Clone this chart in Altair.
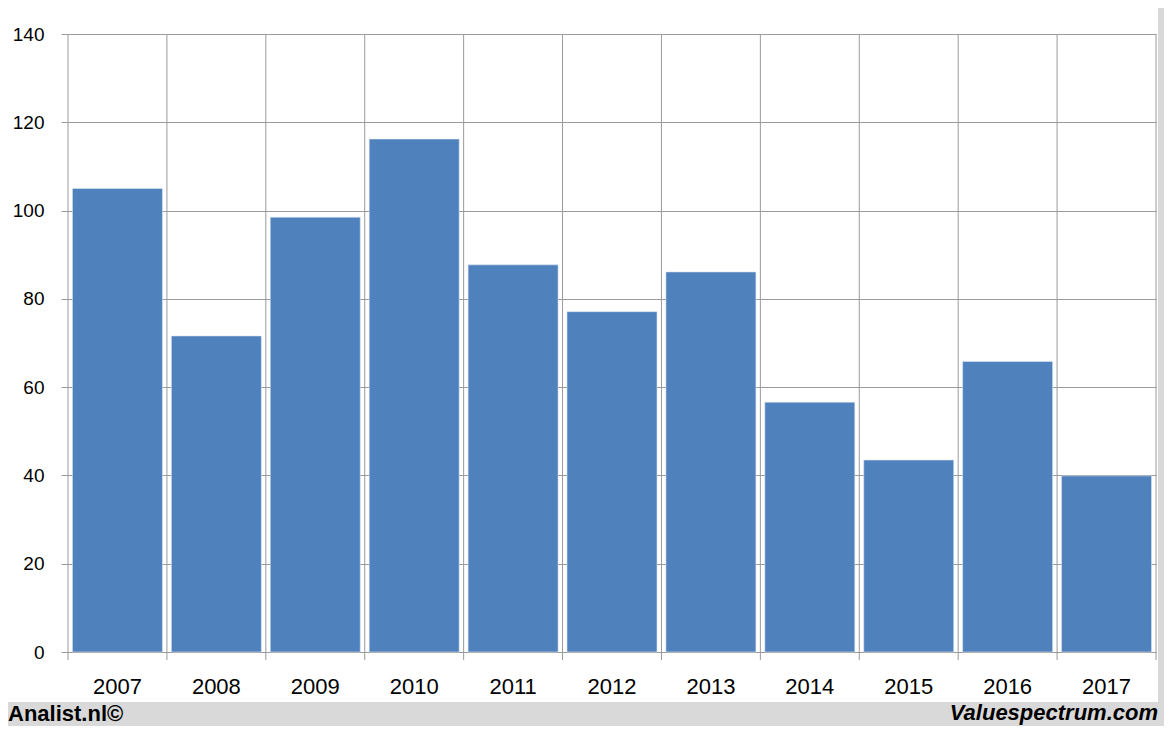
import altair as alt
import pandas as pd

years = ["2007", "2008", "2009", "2010", "2011", "2012", "2013", "2014", "2015", "2016", "2017"]
values = [105.0, 71.6, 98.5, 116.2, 87.7, 77.1, 86.1, 56.6, 43.5, 65.8, 39.9]
y_ticks = [0, 20, 40, 60, 80, 100, 120, 140]
footer_left = "Analist.nl©"
footer_right = "Valuespectrum.com"

df = pd.DataFrame({"year": years, "value": values})

W, H = 1088, 618
FONT = "Liberation Sans"
GRID = "#9a9a9a"
FRAME = "#d9d9d9"

x_scale = alt.Scale(domain=years, paddingInner=0, paddingOuter=0)
y_scale = alt.Scale(domain=[0, 140], nice=False)

x_axis = alt.Axis(
    labelAngle=0,
    ticks=False,
    domain=False,
    grid=False,
    labelPadding=24,
    labelFontSize=22,
    labelFont=FONT,
    labelColor="#000000",
)

base = alt.Chart(df)
first = alt.datum.year == "2007"

# gray footer and right strip (outside plot area)
footer_bg = base.mark_rect(color=FRAME, clip=False).encode(
    x=alt.value(-60), x2=alt.value(1096), y=alt.value(668), y2=alt.value(692)
).transform_filter(first)
right_bg = base.mark_rect(color=FRAME, clip=False).encode(
    x=alt.value(1090), x2=alt.value(1096), y=alt.value(-26), y2=alt.value(692)
).transform_filter(first)

# vertical boundary lines between categories
vlines = base.mark_rule(color=GRID, strokeWidth=1).encode(
    x=alt.X("year:N", bandPosition=0, scale=x_scale, sort=years, title=None, axis=x_axis),
    y=alt.value(0),
    y2=alt.value(H + 8),
)
right_line = base.mark_rule(color=GRID, strokeWidth=1).encode(
    x=alt.value(W), y=alt.value(0), y2=alt.value(H + 8)
).transform_filter(first)

bars = base.mark_bar(
    color="#4f81bd", width=alt.RelativeBandSize(0.91), stroke="#dbe5f1", strokeWidth=0.6
).encode(
    x=alt.X("year:N", scale=x_scale, sort=years, title=None, axis=x_axis),
    y=alt.Y(
        "value:Q",
        scale=y_scale,
        title=None,
        axis=alt.Axis(
            values=y_ticks,
            grid=True,
            gridColor=GRID,
            gridWidth=1,
            domain=False,
            ticks=True,
            tickSize=7,
            tickColor=GRID,
            labelPadding=17,
            labelFontSize=19,
            labelFont=FONT,
            labelColor="#000000",
        ),
    ),
)

txt_left = base.mark_text(
    text=footer_left, align="left", baseline="alphabetic", fontSize=22,
    fontWeight="bold", font=FONT, color="#000000", clip=False
).encode(x=alt.value(-60), y=alt.value(687)).transform_filter(first)

txt_right = base.mark_text(
    text=footer_right, align="right", baseline="alphabetic", fontSize=22,
    fontWeight="bold", fontStyle="italic", font=FONT, color="#000000", clip=False
).encode(x=alt.value(1090), y=alt.value(686)).transform_filter(first)

chart = alt.layer(bars, footer_bg, right_bg, vlines, right_line, txt_left, txt_right).properties(
    width=W,
    height=H,
    autosize=alt.AutoSizeParams(type="none"),
    padding={"left": 60, "top": 26, "right": 8, "bottom": 74},
    background="#ffffff",
).configure_view(stroke=None)

chart.save("out.html", embed_options={"renderer": "svg", "actions": False})
